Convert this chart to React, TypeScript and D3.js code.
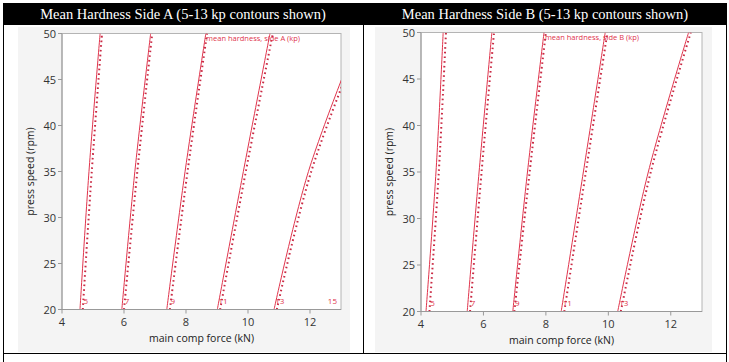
import * as d3 from "d3";

// contour levels shown (kp)
const levels = [5, 7, 9, 11, 13];
const speedKnots = [20, 35, 50];

// side A: main comp force (kN) on each contour at press speed 20 / 35 / 50
const sideAFit = [
  [4.58, 4.87, 5.23],
  [5.93, 6.35, 6.86],
  [7.38, 7.97, 8.64],
  [9.01, 9.85, 10.71],
  [10.84, 11.95, 13.6],
];
const sideADots = [
  [4.67, 4.96, 5.29],
  [6.0, 6.43, 6.91],
  [7.48, 8.05, 8.68],
  [9.1, 9.93, 10.8],
  [10.93, 12.04, 13.7],
];
// side B
const sideBFit = [
  [4.16, 4.48, 4.71],
  [5.48, 5.86, 6.27],
  [6.94, 7.41, 7.94],
  [8.49, 9.2, 9.9],
  [10.3, 11.28, 12.57],
];
const sideBDots = [
  [4.27, 4.57, 4.8],
  [5.57, 5.94, 6.34],
  [6.99, 7.48, 8.0],
  [8.59, 9.28, 9.97],
  [10.4, 11.36, 12.64],
];

const xTicks = [4, 6, 8, 10, 12];
const yTicks = [20, 25, 30, 35, 40, 45, 50];

const RED = "#e0344c";
const DOT = "#c92a44";
const FONT = "'Segoe UI', 'Open Sans', 'DejaVu Sans', sans-serif";

type PanelProps = {
  id: string;
  title: string;
  cellX: number;
  cellW: number;
  bgX: number;
  bgW: number;
  plotX: [number, number];
  plotY: [number, number];
  fit: number[][];
  dots: number[][];
  side: string;
  extraLabel?: string;
};

const Panel = ({ id, title, cellX, cellW, bgX, bgW, plotX, plotY, fit, dots, side, extraLabel }: PanelProps) => {
  const x = d3.scaleLinear().domain([4, 13]).range(plotX);
  const y = d3.scaleLinear().domain([20, 50]).range(plotY);
  const line = d3
    .line<number>()
    .x((d) => x(d))
    .y((_, i) => y(speedKnots[i]))
    .curve(d3.curveCatmullRom);

  const [x0, x1] = plotX;
  const [y1, y0] = plotY;

  return (
    <g>
      <rect x={cellX} y={3} width={cellW} height={22} fill="#000" />
      <text
        x={cellX + cellW / 2}
        y={19}
        textAnchor="middle"
        fill="#fff"
        fontFamily="'Liberation Serif', 'Times New Roman', serif"
        fontSize={14.5}
      >
        {title}
      </text>
      <rect x={bgX} y={27} width={bgW} height={325} fill="#f4f4f4" />
      <defs>
        <clipPath id={id}>
          <rect x={x0} y={y0} width={x1 - x0} height={y1 - y0} />
        </clipPath>
      </defs>
      <rect x={x0} y={y0} width={x1 - x0} height={y1 - y0} fill="#fff" stroke="#b4b4b4" strokeWidth={1} />
      <g clipPath={`url(#${id})`}>
        {fit.map((c, i) => (
          <path key={"f" + i} d={line(c) || ""} fill="none" stroke={RED} strokeWidth={1} />
        ))}
        {dots.map((c, i) => (
          <path
            key={"d" + i}
            d={line(c) || ""}
            fill="none"
            stroke={DOT}
            strokeWidth={2}
            strokeDasharray="1.6 3.1"
          />
        ))}
        {levels.map((lv, i) => (
          <text
            key={"l" + i}
            x={x(dots[i][0]) + 3}
            y={y(20) - 6}
            textAnchor="middle"
            fill={RED}
            fontFamily={FONT}
            fontSize={8}
          >
            {lv}
          </text>
        ))}
        {extraLabel && (
          <text x={x(13) - 4} y={y(20) - 6} textAnchor="end" fill={RED} fontFamily={FONT} fontSize={8}>
            {extraLabel}
          </text>
        )}
        <text x={x(dots[2][2]) - 1} y={y(50) + 7} fill={RED} fontFamily={FONT} fontSize={7.5}>
          {`mean hardness, side ${side} (kp)`}
        </text>
      </g>
      {/* axes */}
      <line x1={x0} x2={x0} y1={y0} y2={y1 + 0.5} stroke="#999" />
      <line x1={x0} x2={x1} y1={y1} y2={y1} stroke="#999" />
      {yTicks.map((t) => (
        <g key={"y" + t}>
          <line x1={x0 - 4} x2={x0} y1={y(t)} y2={y(t)} stroke="#999" />
          <text x={x0 - 6} y={y(t) + 4} textAnchor="end" fill="#333" fontFamily={FONT} fontSize={11}>
            {t}
          </text>
        </g>
      ))}
      {xTicks.map((t) => (
        <g key={"x" + t}>
          <line x1={x(t)} x2={x(t)} y1={y1} y2={y1 + 4} stroke="#999" />
          <text x={x(t)} y={y1 + 16} textAnchor="middle" fill="#333" fontFamily={FONT} fontSize={11}>
            {t}
          </text>
        </g>
      ))}
      <text
        x={(x0 + x1) / 2}
        y={y1 + 32}
        textAnchor="middle"
        fill="#222"
        fontFamily={FONT}
        fontSize={10.5}
      >
        main comp force (kN)
      </text>
      <text
        transform={`translate(${x0 - 28},${(y0 + y1) / 2}) rotate(-90)`}
        textAnchor="middle"
        fill="#222"
        fontFamily={FONT}
        fontSize={10.5}
      >
        press speed (rpm)
      </text>
    </g>
  );
};

export default function App() {
  return (
    <svg
      width={729}
      height={362}
      style={{ position: "absolute", left: 0, top: 0, background: "#fff" }}
    >
      <Panel
        id="clipA"
        title="Mean Hardness Side A (5-13 kp contours shown)"
        cellX={3}
        cellW={360}
        bgX={18}
        bgW={332}
        plotX={[62, 341]}
        plotY={[309.5, 33.5]}
        fit={sideAFit}
        dots={sideADots}
        side="A"
        extraLabel="15"
      />
      <Panel
        id="clipB"
        title="Mean Hardness Side B (5-13 kp contours shown)"
        cellX={364}
        cellW={362}
        bgX={375}
        bgW={337}
        plotX={[421, 702]}
        plotY={[311.5, 32.5]}
        fit={sideBFit}
        dots={sideBDots}
        side="B"
      />
      {/* table borders */}
      <line x1={3.5} x2={3.5} y1={3} y2={362} stroke="#000" />
      <line x1={363.5} x2={363.5} y1={3} y2={353} stroke="#000" />
      <line x1={726.5} x2={726.5} y1={3} y2={362} stroke="#000" />
      <line x1={3} x2={727} y1={353.5} y2={353.5} stroke="#000" />
    </svg>
  );
}
